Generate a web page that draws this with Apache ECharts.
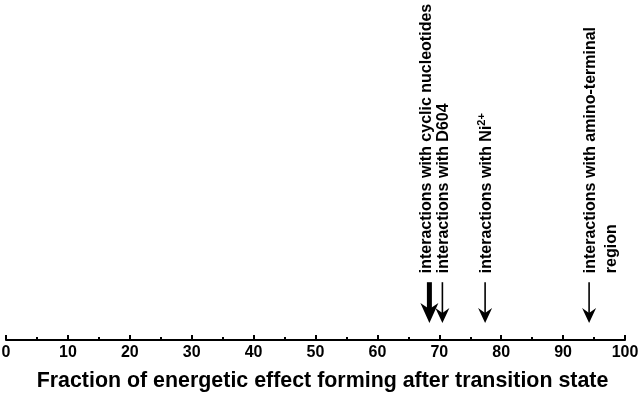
<!DOCTYPE html>
<html>
<head>
<meta charset="utf-8">
<script src="https://cdn.jsdelivr.net/npm/echarts@6/dist/echarts.min.js"></script>
<style>
  html, body { margin: 0; padding: 0; background: #fff; }
  #chart { width: 640px; height: 397px; }
</style>
</head>
<body>
<div id="chart"></div>
<script>
// arrow positions on the fraction axis (%)
const arrowPositions = [68.4, 70.5, 77.4, 94.2]
const arrowLabels = [
  'interactions with cyclic nucleotides',
  'interactions with D604',
  'interactions with Ni{sup|2+}',
  'interactions with amino-terminal\nregion'
]
// 1 = heavy arrow
const arrowHeavy = [1, 0, 0, 0]
const axisTitle = 'Fraction of energetic effect forming after transition state'

const FONT = '"Liberation Sans", Arial, Helvetica, sans-serif'

const chartDom = document.getElementById('chart')
const myChart = echarts.init(chartDom)

function renderArrow(params, api) {
  const heavy = api.value(1) === 1
  const tip = api.coord([api.value(0), 5])
  const top = api.coord([api.value(0), 17])
  const x = tip[0]
  const headH = heavy ? 20 : 15
  const headW = heavy ? 9 : 7
  const notch = heavy ? 6 : 5
  const label = arrowLabels[params.dataIndex]
  return {
    type: 'group',
    children: [
      {
        type: 'line',
        shape: { x1: x, y1: top[1], x2: x, y2: tip[1] - headH + notch + 1 },
        style: { stroke: '#000', lineWidth: heavy ? 5 : 1.6 }
      },
      {
        type: 'polygon',
        shape: {
          points: [
            [x, tip[1]],
            [x - headW, tip[1] - headH],
            [x, tip[1] - headH + notch],
            [x + headW, tip[1] - headH]
          ]
        },
        style: { fill: '#000' }
      },
      {
        type: 'text',
        x: x - (heavy ? 13 : 9),
        y: top[1] - 9,
        rotation: Math.PI / 2,
        style: {
          text: label,
          fill: '#000',
          font: 'bold 16px ' + FONT,
          lineHeight: 21,
          align: 'left',
          verticalAlign: 'top',
          rich: {
            sup: { fontSize: 11, fontWeight: 'bold', fontFamily: FONT, fill: '#000', verticalAlign: 'top', padding: [0, 0, 9, 0] }
          }
        }
      }
    ]
  }
}

const option = {
  animation: false,
  grid: { left: 6, right: 15, top: 0, bottom: 57, outerBoundsMode: 'none', containLabel: false },
  xAxis: {
    type: 'value',
    min: 0,
    max: 100,
    interval: 10,
    name: axisTitle,
    nameLocation: 'middle',
    nameGap: 31,
    nameTextStyle: { color: '#000', fontSize: 21.4, fontWeight: 'bold', fontFamily: FONT, padding: [0, 0, 0, 14] },
    axisLine: { show: true, onZero: false, lineStyle: { color: '#000', width: 2 } },
    axisTick: { show: true, inside: true, length: 5, lineStyle: { color: '#000', width: 2 } },
    minorTick: { show: true, splitNumber: 2, length: 3, lineStyle: { color: '#000', width: 2 } },
    axisLabel: { color: '#000', fontSize: 16, fontWeight: 'bold', fontFamily: FONT, margin: 5, showMinLabel: true, showMaxLabel: true },
    splitLine: { show: false }
  },
  yAxis: { type: 'value', min: 0, max: 100, show: false },
  series: [
    {
      type: 'custom',
      renderItem: renderArrow,
      data: arrowPositions.map((v, i) => [v, arrowHeavy[i]]),
      clip: false
    }
  ]
}

myChart.setOption(option)
</script>
</body>
</html>
